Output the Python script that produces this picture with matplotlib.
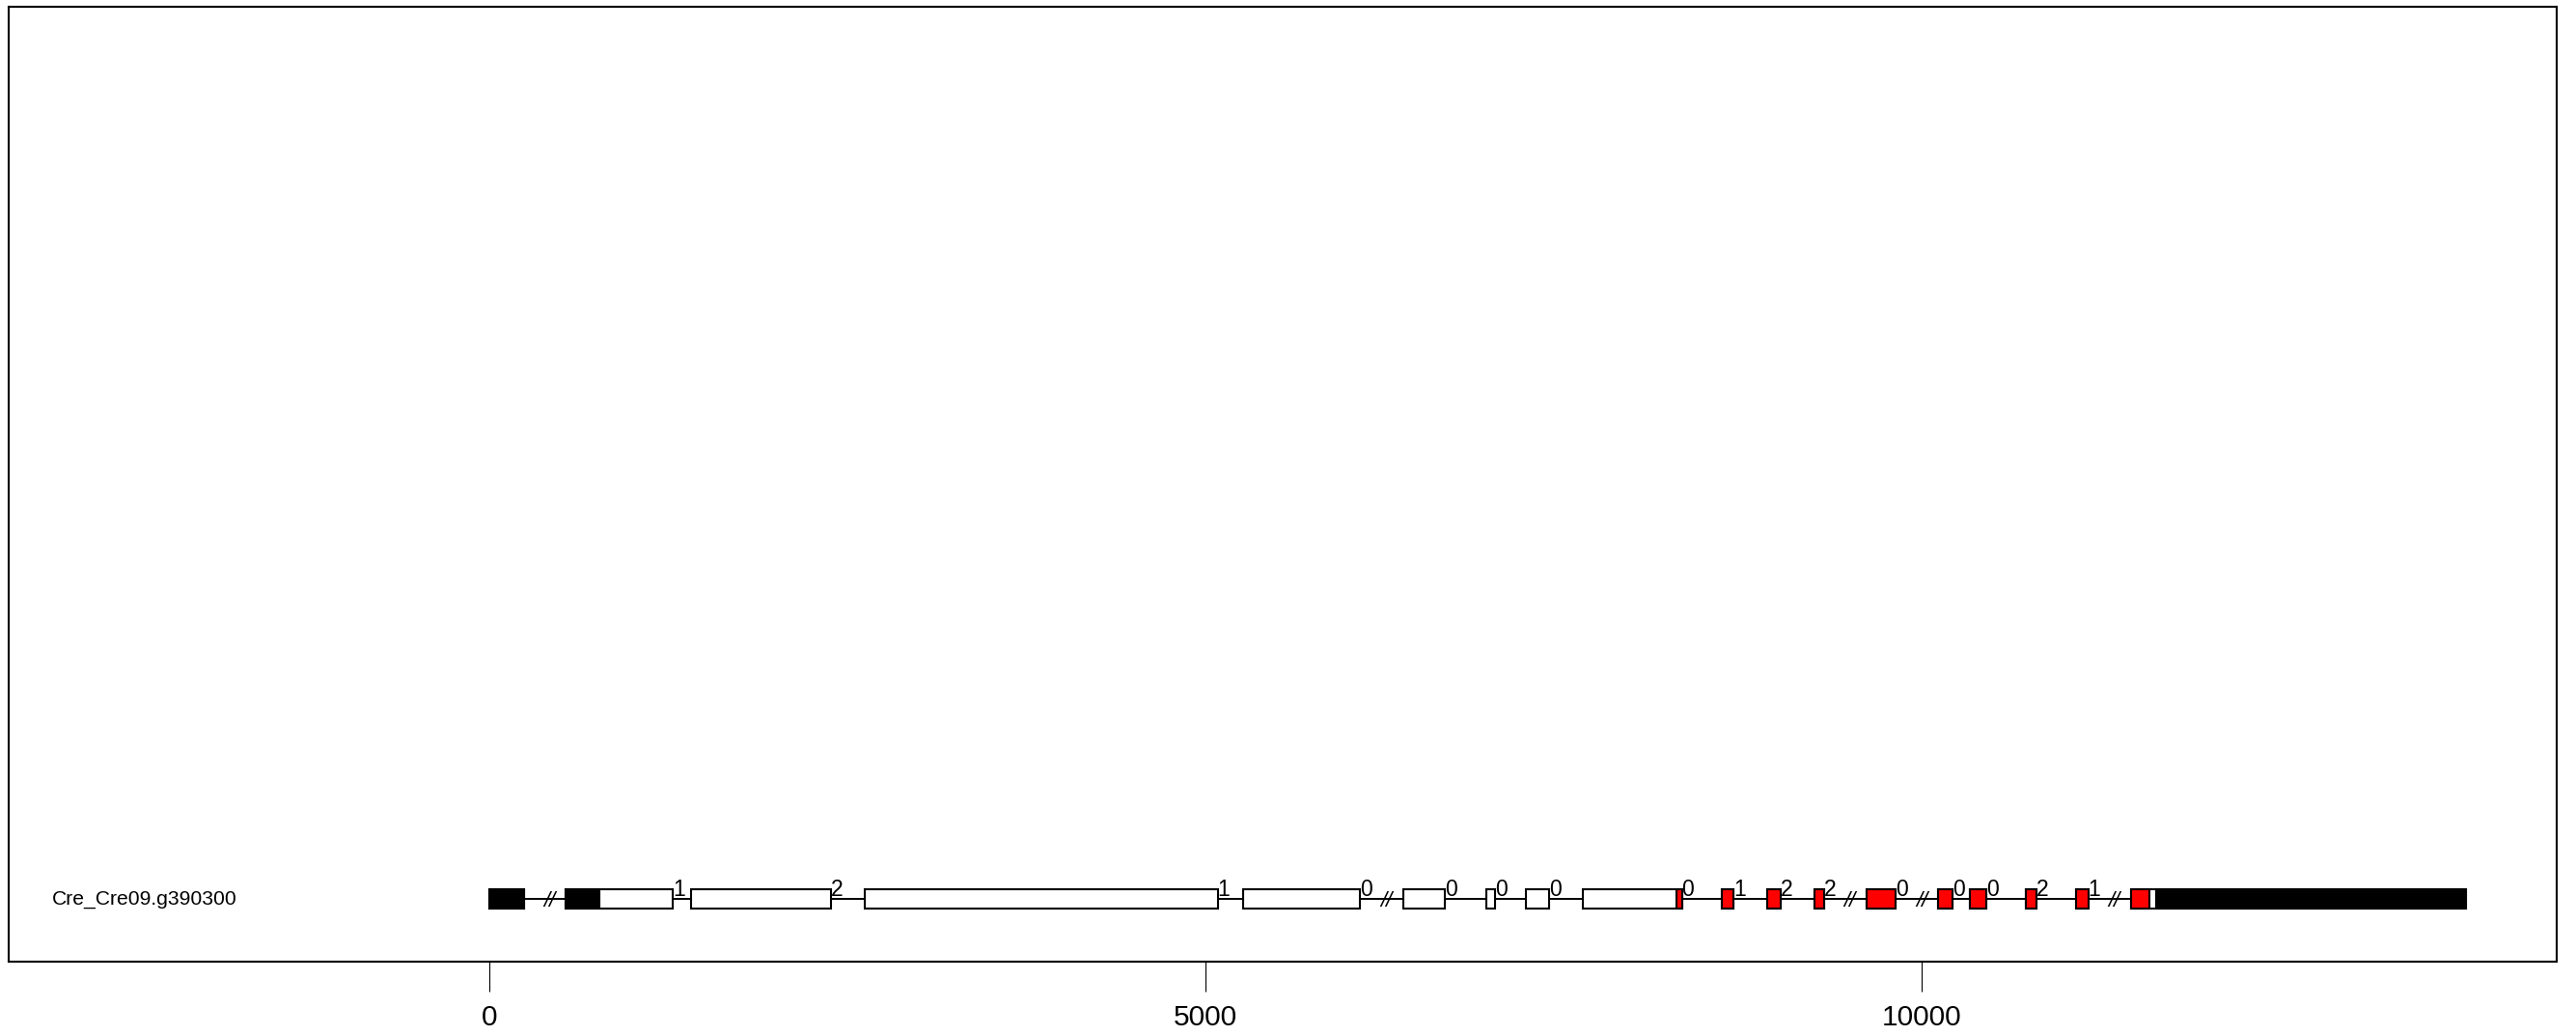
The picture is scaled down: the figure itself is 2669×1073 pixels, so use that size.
import matplotlib
matplotlib.use("Agg")
import matplotlib.pyplot as plt
from matplotlib.patches import Rectangle

plt.rcParams['font.family'] = ['Liberation Sans', 'DejaVu Sans']

gene_name = "Cre_Cre09.g390300"
# exon coordinates (plotted, compressed-intron coordinates)
exon_starts = [0, 534, 1406, 2621, 5260, 6380, 6964, 7234, 7634, 8606, 8924, 9253, 9614, 10116, 10336, 10730, 11080, 11462]
exon_ends   = [245, 1282, 2384, 5085, 6079, 6671, 7024, 7402, 8326, 8687, 9015, 9319, 9821, 10218, 10452, 10799, 11164, 13800]
phases      = [None, "1", "2", "1", "0", "0", "0", "0", "0", "1", "2", "2", "0", "0", "0", "2", "1", None]
# UTR segments (black)
utr_starts = [0, 534, 11635]
utr_ends   = [245, 765, 13800]
# domain segments (red)
dom_starts = [8290, 8606, 8924, 9253, 9614, 10116, 10336, 10730, 11080, 11462]
dom_ends   = [8326, 8687, 9015, 9319, 9821, 10218, 10452, 10799, 11164, 11588]
# intron breaks (//)
break_pos = [418, 6265, 9499, 10004, 11345]
xticks = [0, 5000, 10000]

W, H = 2669, 1073
fig = plt.figure(figsize=(W / 100, H / 100), dpi=100)
ax = fig.add_axes([9 / W, 1 - 996 / H, (2649 - 9) / W, (996 - 7) / H])

yc = 0.0657
hh = 0.0101
lw = 1.5

# intron backbone
ax.plot([exon_starts[0], exon_ends[-1]], [yc, yc], color="black", lw=1.4, zorder=1)

for s, e in zip(exon_starts, exon_ends):
    ax.add_patch(Rectangle((s, yc - hh), e - s, 2 * hh, facecolor="white",
                           edgecolor="black", lw=lw, zorder=2))
for s, e in zip(dom_starts, dom_ends):
    ax.add_patch(Rectangle((s, yc - hh), e - s, 2 * hh, facecolor="#ff0000",
                           edgecolor="black", lw=lw, zorder=3))
for s, e in zip(utr_starts, utr_ends):
    ax.add_patch(Rectangle((s, yc - hh), e - s, 2 * hh, facecolor="black",
                           edgecolor="black", lw=lw, zorder=3))

for e, p in zip(exon_ends, phases):
    if p is not None:
        ax.text(e, yc + hh, p, ha="left", va="center", fontsize=16.5, zorder=4)

for b in break_pos:
    ax.text(b, yc - 0.002, "//", ha="center", va="center", fontsize=16,
            fontstyle="italic", zorder=4)

ax.text(-3053, yc, gene_name, ha="left", va="center", fontsize=15.2)

ax.set_xlim(-3356, 14434)
ax.set_ylim(0, 1)
ax.set_yticks([])
ax.set_xticks(xticks)
ax.set_xticklabels([str(t) for t in xticks])
ax.tick_params(axis="x", length=22, width=0.8, labelsize=21.5, pad=10)
for sp in ax.spines.values():
    sp.set_linewidth(1.5)

fig.savefig("out.png", dpi=100)
